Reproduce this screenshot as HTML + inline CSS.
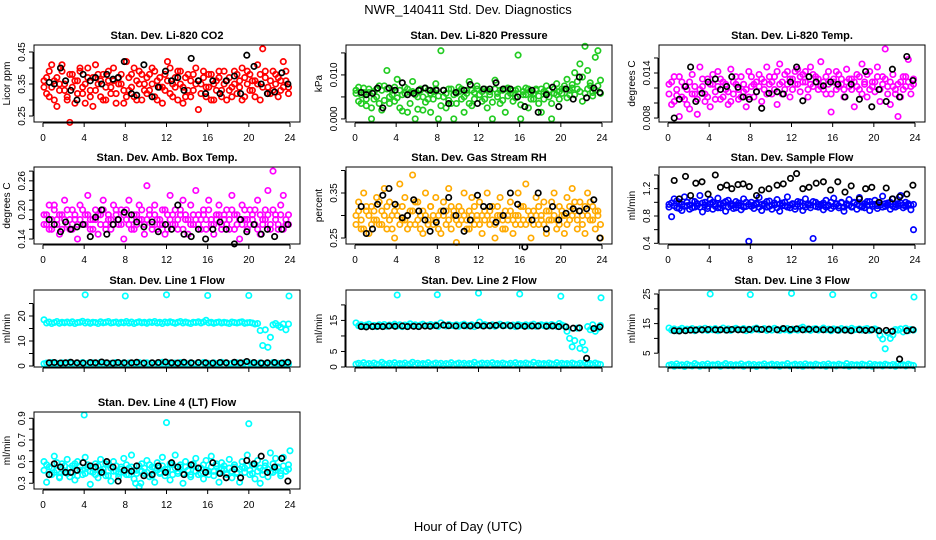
<!DOCTYPE html>
<html><head><meta charset="utf-8"><style>
html,body{margin:0;padding:0;background:#fff;}
svg{display:block;font-family:"Liberation Sans",Arial,sans-serif;}
</style></head><body>
<svg id="chart" width="936" height="540" viewBox="0 0 936 540" xmlns="http://www.w3.org/2000/svg">
<rect width="936" height="540" fill="#fff"/>
<text x="468" y="14" text-anchor="middle" font-size="13">NWR_140411  Std. Dev. Diagnostics</text>
<text x="468" y="531" text-anchor="middle" font-size="13">Hour of Day (UTC)</text>
</svg>
<script>
const HOURS=[0.1,0.35,0.6,0.85,1.1,1.35,1.6,1.85,2.1,2.35,2.6,2.85,3.1,3.35,3.6,3.85,4.1,4.35,4.6,4.85,5.1,5.35,5.6,5.85,6.1,6.35,6.6,6.85,7.1,7.35,7.6,7.85,8.1,8.35,8.6,8.85,9.1,9.35,9.6,9.85,10.1,10.35,10.6,10.85,11.1,11.35,11.6,11.85,12.1,12.35,12.6,12.85,13.1,13.35,13.6,13.85,14.1,14.35,14.6,14.85,15.1,15.35,15.6,15.85,16.1,16.35,16.6,16.85,17.1,17.35,17.6,17.85,18.1,18.35,18.6,18.85,19.1,19.35,19.6,19.85,20.1,20.35,20.6,20.85,21.1,21.35,21.6,21.85,22.1,22.35,22.6,22.85,23.1,23.35,23.6,23.85];
const BLACK_HOURS=[0.6,1.1,1.7,2.2,2.7,3.3,3.9,4.6,5.1,5.7,6.2,6.8,7.3,7.9,8.6,9.1,9.8,10.6,11.2,11.9,12.5,13.1,13.7,14.4,15.1,15.8,16.5,17.2,17.8,18.6,19.2,19.8,20.5,21.2,21.8,22.5,23.2,23.8];
const OUTLIER_HOURS=[4.1,8.0,12.0,16.0,20.0,23.9];
const X_TICKS=[0,4,8,12,16,20,24];

const co2Vals=[0.34,0.37,0.31,0.41,0.36,0.28,0.35,0.39,0.33,0.30,0.23,0.38,0.36,0.32,0.40,0.34,0.29,0.37,0.33,0.28,0.41,0.35,0.31,0.38,0.30,0.36,0.34,0.40,0.32,0.37,0.35,0.29,0.42,0.33,0.38,0.31,0.36,0.39,0.30,0.35,0.37,0.33,0.40,0.31,0.36,0.34,0.29,0.38,0.42,0.32,0.35,0.37,0.30,0.39,0.34,0.31,0.38,0.36,0.33,0.40,0.27,0.35,0.37,0.31,0.34,0.38,0.30,0.36,0.39,0.33,0.35,0.30,0.37,0.34,0.39,0.32,0.36,0.40,0.31,0.35,0.38,0.33,0.36,0.41,0.30,0.46,0.37,0.34,0.32,0.39,0.35,0.37,0.33,0.42,0.36,0.34];
const co2Vals2=[0.36,0.32,0.39,0.34,0.30,0.37,0.33,0.41,0.35,0.31,0.38,0.34,0.29,0.36,0.39,0.32,0.35,0.40,0.31,0.37,0.33,0.38,0.36,0.30,0.34,0.39,0.32,0.36,0.29,0.35,0.38,0.33,0.31,0.37,0.34,0.40,0.30,0.35,0.38,0.33,0.32,0.38,0.35,0.39,0.30,0.37,0.34,0.33,0.36,0.40,0.31,0.34,0.39,0.35,0.29,0.37,0.33,0.31,0.38,0.35,0.36,0.32,0.39,0.34,0.38,0.30,0.35,0.33,0.37,0.31,0.39,0.36,0.33,0.31,0.35,0.38,0.34,0.30,0.37,0.39,0.33,0.36,0.31,0.35,0.38,0.34,0.39,0.32,0.36,0.33,0.38,0.31,0.36,0.34,0.39,0.32];
const co2Black=[0.355,0.35,0.40,0.36,0.33,0.30,0.38,0.36,0.37,0.35,0.38,0.365,0.37,0.42,0.32,0.315,0.41,0.31,0.34,0.39,0.36,0.37,0.33,0.43,0.36,0.32,0.36,0.32,0.36,0.375,0.32,0.44,0.405,0.35,0.32,0.325,0.385,0.35];

const presVals=[0.0065,0.004,0.0055,0.007,0.003,0.006,0,0.0045,0.0068,0.0035,0.002,0.0075,0.011,0.005,0.0065,0.004,0.009,0.0025,0.0055,0.0072,0.0015,0.006,0.0085,0,0.005,0.0065,0.002,0.007,0.0045,0.0015,0.0062,0.008,0,0.0155,0.005,0.0025,0.0068,0.0035,0,0.0058,0.0072,0.0045,0.0015,0.0065,0.0085,0.003,0.006,0.0075,0.0055,0.004,0.0068,0.0025,0.0062,0,0.0088,0.005,0.0035,0.0065,0.0015,0.007,0.0058,0.004,0.0065,0.0145,0,0.0055,0.007,0.0025,0.006,0.0045,0.0068,0.0035,0.0015,0.0062,0.0075,0.005,0,0.0058,0.008,0.0045,0.0068,0.0075,0.009,0.0055,0.007,0.0105,0.0085,0.0125,0.004,0.0165,0.011,0.0075,0.006,0.014,0.0155,0.0088];
const presVals2=[0.0058,0.0072,0.0035,0.006,0.0045,0.0068,0.0025,0.0062,0.005,0.0075,0.0065,0.0042,0.0068,0.0035,0.0055,0.0072,0.0048,0.0065,0.0018,0.0058,0.0068,0.0035,0.0062,0.0055,0.0022,0.0068,0.005,0.0038,0.0065,0.0058,0.0045,0.0068,0.0052,0.003,0.0065,0.0058,0.0042,0.0068,0.0055,0.0035,0.0062,0.0068,0.005,0.0058,0.0035,0.0065,0.0045,0.0068,0.0055,0.0062,0.0045,0.0065,0.0055,0.0038,0.0068,0.0058,0.0065,0.0042,0.0068,0.0052,0.0065,0.0058,0.0048,0.0068,0.0032,0.0062,0.0055,0.0068,0.0045,0.0058,0.0065,0.0052,0.0068,0.0045,0.0058,0.0065,0.0035,0.0068,0.0055,0.0062,0.0058,0.0068,0.0048,0.0065,0.0078,0.0055,0.0068,0.0062,0.0095,0.0058,0.0068,0.0082,0.0052,0.0065,0.0075,0.0058];
const presBlack=[0.006,0.0055,0.0058,0.007,0.0025,0.007,0.0065,0.0082,0.0055,0.0058,0.0065,0.007,0.0065,0.0065,0.0065,0.0035,0.006,0.0065,0.0078,0.0035,0.0068,0.0068,0.0082,0.0068,0.0068,0.005,0.0028,0.0065,0.0015,0.0055,0.0072,0.0028,0.0068,0.0045,0.0095,0.0048,0.007,0.006];

const tempVals=[0.0125,0.0098,0.0135,0.011,0.0082,0.0128,0.0105,0.0118,0.0092,0.0138,0.0112,0.0085,0.0148,0.0122,0.0102,0.0132,0.0095,0.0125,0.0115,0.0142,0.0105,0.0128,0.0118,0.0098,0.0145,0.0112,0.0125,0.0105,0.0135,0.0115,0.0095,0.0142,0.0122,0.0108,0.0128,0.0138,0.0102,0.0118,0.0148,0.0125,0.0112,0.0135,0.0098,0.0152,0.0128,0.0118,0.0142,0.0108,0.0132,0.0125,0.0145,0.0115,0.0138,0.0128,0.0108,0.0148,0.0122,0.0135,0.0118,0.0155,0.0128,0.0112,0.0142,0.0088,0.0132,0.0118,0.0138,0.0125,0.0108,0.0145,0.0122,0.0132,0.0095,0.0138,0.0118,0.0152,0.0125,0.0108,0.0142,0.0128,0.0115,0.0148,0.0102,0.0135,0.0172,0.0122,0.0098,0.0138,0.0112,0.0082,0.0128,0.0118,0.0135,0.0158,0.0122,0.0132];
const tempVals2=[0.0112,0.0128,0.0102,0.0118,0.0135,0.0108,0.0122,0.0098,0.0128,0.0112,0.0122,0.0105,0.0118,0.0132,0.0112,0.0108,0.0125,0.0138,0.0105,0.0122,0.0132,0.0108,0.0125,0.0115,0.0102,0.0128,0.0135,0.0118,0.0108,0.0125,0.0118,0.0108,0.0135,0.0125,0.0115,0.0122,0.0132,0.0128,0.0112,0.0135,0.0128,0.0118,0.0142,0.0125,0.0112,0.0138,0.0125,0.0132,0.0118,0.0142,0.0125,0.0135,0.0128,0.0142,0.0118,0.0125,0.0138,0.0128,0.0132,0.0122,0.0118,0.0135,0.0125,0.0112,0.0128,0.0142,0.0122,0.0132,0.0118,0.0128,0.0132,0.0118,0.0128,0.0122,0.0135,0.0112,0.0128,0.0138,0.0118,0.0122,0.0128,0.0135,0.0118,0.0125,0.0132,0.0112,0.0128,0.0122,0.0118,0.0125,0.0108,0.0135,0.0122,0.0128,0.0112,0.0125];
const tempBlack=[0.008,0.0105,0.0122,0.0148,0.0102,0.0113,0.0128,0.0132,0.0118,0.0122,0.0135,0.0121,0.0108,0.0105,0.0115,0.0093,0.0113,0.0115,0.0112,0.0128,0.0148,0.0103,0.0135,0.0128,0.0123,0.0128,0.0125,0.0108,0.0125,0.0105,0.0142,0.0095,0.0118,0.0102,0.0145,0.0108,0.0162,0.013];

const ambVals=[0.19,0.17,0.21,0.16,0.20,0.18,0.15,0.19,0.22,0.17,0.16,0.20,0.18,0.14,0.21,0.17,0.19,0.23,0.16,0.18,0.20,0.15,0.19,0.22,0.17,0.18,0.16,0.21,0.19,0.17,0.20,0.14,0.18,0.22,0.16,0.19,0.17,0.21,0.18,0.15,0.25,0.19,0.16,0.21,0.18,0.17,0.20,0.15,0.19,0.23,0.17,0.20,0.16,0.19,0.22,0.18,0.15,0.21,0.17,0.24,0.19,0.16,0.20,0.18,0.22,0.17,0.15,0.19,0.21,0.16,0.18,0.20,0.16,0.23,0.19,0.17,0.14,0.21,0.18,0.16,0.20,0.19,0.17,0.22,0.15,0.18,0.20,0.24,0.17,0.28,0.19,0.16,0.21,0.23,0.17,0.19];
const ambVals2=[0.17,0.19,0.16,0.18,0.21,0.17,0.19,0.16,0.18,0.20,0.18,0.16,0.19,0.17,0.18,0.20,0.17,0.19,0.18,0.16,0.18,0.19,0.17,0.20,0.16,0.19,0.18,0.17,0.20,0.18,0.17,0.19,0.20,0.17,0.18,0.16,0.19,0.18,0.20,0.17,0.18,0.20,0.17,0.19,0.16,0.18,0.17,0.20,0.16,0.18,0.19,0.17,0.18,0.20,0.16,0.19,0.18,0.17,0.19,0.18,0.17,0.18,0.19,0.16,0.20,0.18,0.17,0.18,0.19,0.17,0.19,0.17,0.18,0.20,0.16,0.19,0.18,0.17,0.20,0.18,0.17,0.18,0.20,0.16,0.19,0.17,0.18,0.19,0.16,0.20,0.18,0.17,0.19,0.16,0.18,0.17];
const ambBlack=[0.18,0.17,0.155,0.175,0.16,0.165,0.17,0.145,0.185,0.20,0.15,0.17,0.18,0.195,0.19,0.175,0.165,0.175,0.155,0.17,0.16,0.21,0.15,0.145,0.16,0.14,0.16,0.175,0.16,0.13,0.18,0.155,0.17,0.15,0.16,0.145,0.16,0.17];

const rhVals=[0.30,0.33,0.27,0.35,0.31,0.26,0.32,0.29,0.34,0.28,0.31,0.36,0.27,0.33,0.30,0.25,0.32,0.37,0.29,0.34,0.27,0.31,0.39,0.28,0.33,0.30,0.26,0.35,0.29,0.32,0.28,0.34,0.30,0.26,0.33,0.31,0.36,0.27,0.30,0.24,0.32,0.29,0.35,0.27,0.31,0.34,0.28,0.30,0.33,0.26,0.31,0.35,0.28,0.32,0.25,0.30,0.34,0.27,0.31,0.29,0.33,0.26,0.30,0.35,0.28,0.32,0.37,0.29,0.25,0.31,0.34,0.28,0.30,0.33,0.26,0.31,0.29,0.35,0.27,0.32,0.30,0.26,0.34,0.29,0.36,0.31,0.27,0.33,0.30,0.26,0.35,0.29,0.32,0.27,0.31,0.25];
const rhVals2=[0.28,0.31,0.29,0.27,0.32,0.30,0.28,0.31,0.29,0.33,0.28,0.30,0.32,0.29,0.27,0.31,0.30,0.28,0.32,0.29,0.30,0.28,0.31,0.33,0.29,0.27,0.31,0.30,0.28,0.32,0.30,0.29,0.27,0.31,0.30,0.28,0.29,0.32,0.31,0.29,0.28,0.31,0.30,0.29,0.27,0.30,0.32,0.29,0.28,0.30,0.29,0.30,0.31,0.29,0.28,0.32,0.30,0.29,0.27,0.30,0.31,0.29,0.28,0.30,0.32,0.29,0.28,0.31,0.30,0.28,0.30,0.32,0.29,0.28,0.31,0.29,0.33,0.30,0.29,0.28,0.31,0.30,0.28,0.32,0.30,0.33,0.29,0.31,0.28,0.32,0.30,0.33,0.29,0.31,0.30,0.28];
const rhBlack=[0.32,0.26,0.27,0.325,0.345,0.36,0.325,0.295,0.30,0.335,0.31,0.29,0.265,0.285,0.31,0.34,0.30,0.265,0.29,0.345,0.32,0.32,0.285,0.30,0.35,0.325,0.23,0.29,0.35,0.27,0.32,0.29,0.305,0.315,0.31,0.315,0.335,0.25];

const flowVals=[0.97,0.79,1.05,0.92,1.00,0.88,1.08,0.95,0.90,1.02,0.93,0.98,1.10,0.86,1.00,0.94,1.04,0.90,0.97,1.06,0.92,0.99,0.87,1.03,0.95,0.91,1.01,0.96,0.89,1.05,0.94,0.43,1.00,0.91,0.97,1.07,0.88,0.98,0.93,1.02,0.90,0.96,1.04,0.87,0.99,0.95,1.08,0.92,0.97,0.90,1.01,0.94,0.88,1.05,0.96,0.92,0.47,1.00,0.93,0.97,0.89,1.03,0.95,0.91,1.06,0.98,0.92,1.00,0.87,0.96,1.04,0.93,0.99,0.90,1.07,0.95,0.92,1.01,0.88,0.97,1.03,0.91,0.96,1.09,0.94,0.99,0.90,1.05,0.93,0.98,1.10,0.92,1.00,0.96,0.89,0.60];
const flowVals2=[0.93,0.99,0.95,1.02,0.91,0.97,0.94,1.00,0.96,0.92,1.01,0.95,0.93,0.99,0.96,0.91,0.98,1.00,0.94,0.92,0.97,0.95,1.01,0.93,0.98,0.96,0.92,0.99,0.95,0.93,1.00,0.97,0.94,0.96,0.99,0.93,0.97,0.95,1.01,0.94,0.96,0.99,0.92,0.97,0.95,1.00,0.93,0.96,0.98,0.94,0.97,1.00,0.95,0.93,0.98,0.96,1.01,0.94,0.97,0.95,0.99,0.93,0.96,1.00,0.94,0.97,0.95,0.99,0.93,0.98,0.96,0.94,1.00,0.97,0.95,0.93,0.98,0.96,1.01,0.94,0.97,0.95,0.99,0.93,0.98,0.96,1.00,0.94,0.97,0.95,0.99,0.96,0.94,0.98,0.96,0.97];
const flowBlack=[1.32,1.05,1.38,1.10,1.28,1.30,1.12,1.40,1.22,1.25,1.20,1.26,1.27,1.23,1.10,1.18,1.20,1.25,1.27,1.35,1.42,1.20,1.22,1.28,1.30,1.18,1.30,1.15,1.24,1.05,1.20,1.22,1.00,1.21,1.05,1.08,1.12,1.25];

const line1High=[18.5,17.2,17.6,17.0,17.4,17.8,17.1,17.5,17.3,17.6,17.2,17.7,17.0,17.4,17.5,17.9,17.2,17.6,17.1,17.5,17.4,17.0,17.7,17.3,17.5,17.8,17.2,17.4,17.6,17.1,17.5,17.3,17.8,17.2,17.6,17.0,17.4,17.7,17.3,17.5,17.1,17.6,17.4,17.8,17.2,17.5,17.0,17.6,17.3,17.7,17.4,17.1,17.5,17.8,17.2,17.6,17.3,17.0,17.5,17.4,17.7,17.2,17.6,18.3,17.3,17.5,17.1,17.4,17.6,17.2,17.5,17.3,17.0,17.6,17.4,17.2,17.5,17.7,17.1,17.3,17.4,17.2,16.8,17.0,14.2,8.2,14.5,7.5,11.5,16.5,17.0,16.2,15.5,16.8,14.5,16.8];
const lineLow=[0.9,1.2,0.6,1.4,0.8,1.1,0.5,1.3,0.9,0.7,1.5,1.0,0.6,1.2,0.8,1.4,0.7,1.1,0.9,1.3,0.6,1.0,1.5,0.8,1.2,0.7,1.1,0.9,1.4,0.6,1.0,1.3,0.8,1.2,0.5,1.1,0.9,1.4,0.7,1.0,1.3,0.8,1.2,0.6,1.1,0.9,1.5,0.7,1.0,1.3,0.8,1.2,0.6,1.4,0.9,1.1,0.7,1.3,1.0,0.8,1.2,0.6,1.4,0.9,1.1,0.7,1.3,1.0,0.8,1.5,0.6,1.2,0.9,1.1,0.7,1.3,1.0,0.8,1.4,0.6,1.2,0.9,1.1,0.7,1.3,1.0,0.8,1.2,0.6,1.4,0.9,1.1,0.7,1.3,1.0,0.8];
const line1Black=[1.3,1.4,1.2,1.3,1.5,1.3,1.2,1.4,1.3,1.6,1.3,1.2,1.4,1.3,1.3,1.5,1.2,1.3,1.4,1.6,1.3,1.2,1.5,1.3,1.4,1.3,1.2,1.4,1.3,1.5,1.3,1.8,1.4,1.2,1.3,1.4,1.2,1.5];
const line1Out=[28.5,28.0,28.5,28.2,28.2,28.0];

const line2High=[14.2,13.3,13.6,13.1,13.5,13.8,13.2,13.4,13.0,13.6,13.3,13.7,13.1,13.5,13.4,13.8,13.2,13.6,13.0,13.5,13.4,13.9,13.3,13.6,13.1,13.5,13.8,13.2,13.4,13.7,13.3,13.6,13.1,14.2,13.5,13.2,13.7,13.4,13.3,13.6,13.1,13.5,13.8,13.2,13.4,13.6,13.0,13.5,14.5,13.3,13.7,13.4,13.2,13.6,13.1,13.5,13.8,13.3,13.4,13.6,13.2,13.5,13.0,13.7,13.4,13.3,13.6,13.2,13.5,13.8,13.1,13.4,13.6,13.3,13.5,13.2,13.7,13.4,13.1,14.0,13.5,13.2,11.5,9.2,6.5,8.5,12.5,6.0,8.0,5.5,13.0,12.0,13.6,11.5,12.5,13.4];
const line2Black=[13.0,12.9,13.0,13.1,13.0,13.2,13.1,13.2,13.0,13.1,13.0,13.2,13.1,13.3,13.5,13.3,13.2,13.3,13.2,13.4,13.2,13.3,13.4,13.3,13.3,13.2,13.1,13.2,13.2,13.1,13.2,13.0,12.9,12.5,12.6,2.8,12.4,12.9];
const line2Out=[23.2,23.3,23.8,23.5,22.8,22.3];

const line3High=[13.5,12.8,13.2,12.6,13.0,13.4,12.7,13.1,12.9,13.3,12.6,13.0,13.2,12.8,13.4,12.7,13.1,12.9,13.3,12.6,13.0,13.5,12.8,13.2,12.7,13.1,13.4,12.9,13.0,13.3,12.6,13.1,12.8,13.2,13.5,12.9,13.0,13.3,12.7,13.1,12.8,13.4,13.0,12.7,13.2,12.9,13.3,12.6,13.1,13.0,12.8,13.4,13.8,12.9,13.2,12.7,13.1,13.3,12.8,13.0,13.5,12.9,13.1,12.6,13.2,13.0,12.7,13.3,12.9,13.1,12.8,13.4,12.9,13.0,13.2,12.8,13.1,13.3,12.7,13.0,13.2,12.8,11.0,9.8,6.5,12.0,10.0,11.2,13.0,12.8,13.2,12.2,13.4,12.6,13.0,12.8];
const line3Black=[12.6,12.5,12.6,12.8,12.8,12.9,13.0,12.9,12.9,12.8,13.0,12.9,12.9,13.0,13.2,13.0,13.1,12.9,13.3,13.0,13.2,12.9,13.1,13.0,12.9,12.9,12.8,12.8,12.6,12.9,12.7,12.9,12.6,12.7,12.4,3.0,12.6,12.9];
const line3Out=[25.0,24.8,25.2,24.8,24.6,24.0];

const line4Vals=[0.50,0.31,0.45,0.38,0.55,0.42,0.35,0.48,0.40,0.52,0.36,0.46,0.33,0.50,0.42,0.38,0.54,0.45,0.29,0.40,0.48,0.35,0.52,0.43,0.37,0.47,0.32,0.50,0.41,0.36,0.45,0.53,0.38,0.44,0.56,0.34,0.42,0.27,0.48,0.39,0.51,0.36,0.45,0.31,0.49,0.40,0.54,0.37,0.43,0.33,0.47,0.56,0.39,0.45,0.30,0.50,0.42,0.36,0.48,0.53,0.38,0.44,0.34,0.51,0.41,0.55,0.37,0.46,0.31,0.49,0.43,0.39,0.52,0.35,0.45,0.40,0.31,0.50,0.44,0.56,0.38,0.47,0.34,0.51,0.30,0.42,0.49,0.36,0.58,0.40,0.53,0.45,0.37,0.54,0.41,0.47];
const line4Vals2=[0.42,0.47,0.38,0.44,0.40,0.49,0.36,0.43,0.46,0.39,0.44,0.40,0.48,0.37,0.45,0.42,0.39,0.47,0.41,0.44,0.38,0.46,0.42,0.40,0.48,0.37,0.44,0.41,0.46,0.39,0.43,0.40,0.47,0.38,0.45,0.42,0.39,0.46,0.41,0.44,0.40,0.47,0.37,0.44,0.42,0.39,0.46,0.43,0.40,0.48,0.38,0.44,0.41,0.47,0.39,0.45,0.42,0.38,0.46,0.41,0.44,0.39,0.47,0.42,0.38,0.45,0.41,0.48,0.40,0.43,0.46,0.38,0.44,0.41,0.47,0.39,0.43,0.45,0.40,0.46,0.42,0.39,0.47,0.41,0.44,0.38,0.46,0.43,0.40,0.48,0.42,0.44,0.39,0.46,0.41,0.43];
const line4Black=[0.38,0.48,0.45,0.40,0.40,0.42,0.49,0.46,0.45,0.40,0.50,0.45,0.32,0.42,0.41,0.46,0.37,0.38,0.46,0.40,0.49,0.45,0.38,0.47,0.44,0.40,0.49,0.39,0.35,0.43,0.35,0.51,0.48,0.55,0.40,0.45,0.53,0.32];
const line4Out=[0.93,0.30,0.86,0.30,0.85,0.60];
const line4OutHours=[4.0,9.0,12.0,9.5,20.0,24.0];

const svg=document.getElementById('chart');
const NS='http://www.w3.org/2000/svg';
function mk(tag,attrs,parent){const e=document.createElementNS(NS,tag);for(const k in attrs)e.setAttribute(k,attrs[k]);(parent||svg).appendChild(e);return e;}

const COLS=[34,346,659], ROWS=[45,167,290,412], W=266, H=77;
const panels=[
 {name:'co2',title:'Stan. Dev. Li-820 CO2',yl:'Licor ppm',c:0,r:0,y0:0.23125,y1:0.4719,ticks:[0.25,0.30,0.35,0.40,0.45],labels:['0.25','','0.35','','0.45'],col:'#ff0000',vals:co2Vals,vals2:co2Vals2,blk:co2Black},
 {name:'pressure',title:'Stan. Dev. Li-820 Pressure',yl:'kPa',c:1,r:0,y0:-0.0007,y1:0.0168,ticks:[0,0.005,0.010,0.015],labels:['0.000','','0.010',''],col:'#22cc22',vals:presVals,vals2:presVals2,blk:presBlack},
 {name:'li820-temp',title:'Stan. Dev. Li-820 Temp.',yl:'degrees C',c:2,r:0,y0:0.00747,y1:0.01773,ticks:[0.008,0.010,0.012,0.014,0.016],labels:['0.008','','','0.014',''],col:'#ff00ff',vals:tempVals,vals2:tempVals2,blk:tempBlack},
 {name:'amb-box-temp',title:'Stan. Dev. Amb. Box Temp.',yl:'degrees C',c:0,r:1,y0:0.1297,y1:0.2885,ticks:[0.14,0.16,0.18,0.20,0.22,0.24,0.26,0.28],labels:['0.14','','','0.20','','','0.26',''],col:'#ff00ff',vals:ambVals,vals2:ambVals2,blk:ambBlack},
 {name:'gas-rh',title:'Stan. Dev. Gas Stream RH',yl:'percent',c:1,r:1,y0:0.2367,y1:0.4078,ticks:[0.25,0.30,0.35,0.40],labels:['0.25','','0.35',''],col:'#ffaa00',vals:rhVals,vals2:rhVals2,blk:rhBlack},
 {name:'sample-flow',title:'Stan. Dev. Sample Flow',yl:'ml/min',c:2,r:1,y0:0.39,y1:1.517,ticks:[0.4,0.6,0.8,1.0,1.2,1.4],labels:['0.4','','0.8','','1.2',''],col:'#0000ff',vals:flowVals,vals2:flowVals2,blk:flowBlack},
 {name:'line1-flow',title:'Stan. Dev. Line 1 Flow',yl:'ml/min',c:0,r:2,y0:-0.4,y1:30.4,ticks:[0,5,10,15,20,25],labels:['0','','10','','20',''],col:'#00ffff',vals:line1High,low:lineLow,blk:line1Black,out:line1Out,outH:OUTLIER_HOURS},
 {name:'line2-flow',title:'Stan. Dev. Line 2 Flow',yl:'ml/min',c:1,r:2,y0:0,y1:24.8,ticks:[0,5,10,15,20],labels:['0','5','','15',''],col:'#00ffff',vals:line2High,low:lineLow,blk:line2Black,out:line2Out,outH:OUTLIER_HOURS},
 {name:'line3-flow',title:'Stan. Dev. Line 3 Flow',yl:'ml/min',c:2,r:2,y0:0.34,y1:26.35,ticks:[5,10,15,20,25],labels:['5','','15','','25'],col:'#00ffff',vals:line3High,low:lineLow,blk:line3Black,out:line3Out,outH:OUTLIER_HOURS},
 {name:'line4-flow',title:'Stan. Dev. Line 4 (LT) Flow',yl:'ml/min',c:0,r:3,y0:0.247,y1:0.958,ticks:[0.3,0.4,0.5,0.6,0.7,0.8,0.9],labels:['0.3','','0.5','','0.7','','0.9'],col:'#00ffff',vals:line4Vals,vals2:line4Vals2,blk:line4Black,out:line4Out,outH:line4OutHours}
];

panels.forEach(p=>{
  const L=COLS[p.c], T=ROWS[p.r];
  const xs=h=>L+9+h*(247/24);
  const ys=v=>T+H-(v-p.y0)/(p.y1-p.y0)*H;
  const g=mk('g',{});
  
  
  const t=mk('text',{x:L+W/2,y:T-6,'text-anchor':'middle','font-size':'11','font-weight':'bold'},g);
  t.textContent=p.title;
  
  
  const yl=mk('text',{x:0,y:0,'text-anchor':'middle','font-size':'10',transform:`translate(${L-24},${T+H/2}) rotate(-90)`},g);
  yl.textContent=p.yl;
  
  
  const pts=mk('g',{fill:'none','stroke-width':'1.7'},g);
  
  
  const dot=(h,v,c,nm)=>{const e=mk('circle',{cx:xs(h).toFixed(1),cy:ys(v).toFixed(1),r:2.7,stroke:c},pts);
    
    };
  if(p.low) p.low.forEach((v,i)=>{if(i<HOURS.length)dot(HOURS[i],v,p.col,'low-point');});
  if(p.vals2) p.vals2.forEach((v,i)=>{if(i<HOURS.length)dot(HOURS[i],v,p.col,'data-point');});
  p.vals.forEach((v,i)=>{if(i<HOURS.length)dot(HOURS[i],v,p.col,'data-point');});
  if(p.out) p.out.forEach((v,i)=>dot(p.outH[i],v,p.col,'outlier-point'));
  p.blk.forEach((v,i)=>{if(i<BLACK_HOURS.length)dot(BLACK_HOURS[i],v,'#000','black-point');});
  const fr=mk('rect',{x:L,y:T,width:W,height:H,fill:'none',stroke:'#000','stroke-width':'1'},g);
  
  
  const xa=mk('g',{},g);
  
  
  mk('line',{x1:xs(0),x2:xs(24),y1:T+H+1,y2:T+H+1,stroke:'#000'},xa);
  X_TICKS.forEach(h=>{
    mk('line',{x1:xs(h),x2:xs(h),y1:T+H+1,y2:T+H+5,stroke:'#000'},xa);
    if(p.r!==2){const tl=mk('text',{x:xs(h),y:T+H+19,'text-anchor':'middle','font-size':'10'},xa);
    tl.textContent=h;
    
    }
  });
  const ya=mk('g',{},g);
  
  
  mk('line',{x1:L-1,x2:L-1,y1:ys(p.ticks[0]),y2:ys(p.ticks[p.ticks.length-1]),stroke:'#000'},ya);
  p.ticks.forEach((v,i)=>{
    const y=ys(v);
    mk('line',{x1:L-5,x2:L-1,y1:y,y2:y,stroke:'#000'},ya);
    if(p.labels[i]){const tl=mk('text',{x:0,y:0,'text-anchor':'middle','font-size':'10',transform:`translate(${L-9},${y}) rotate(-90)`},ya);
      tl.textContent=p.labels[i];
      
      }
  });
});
</script>
</body></html>
